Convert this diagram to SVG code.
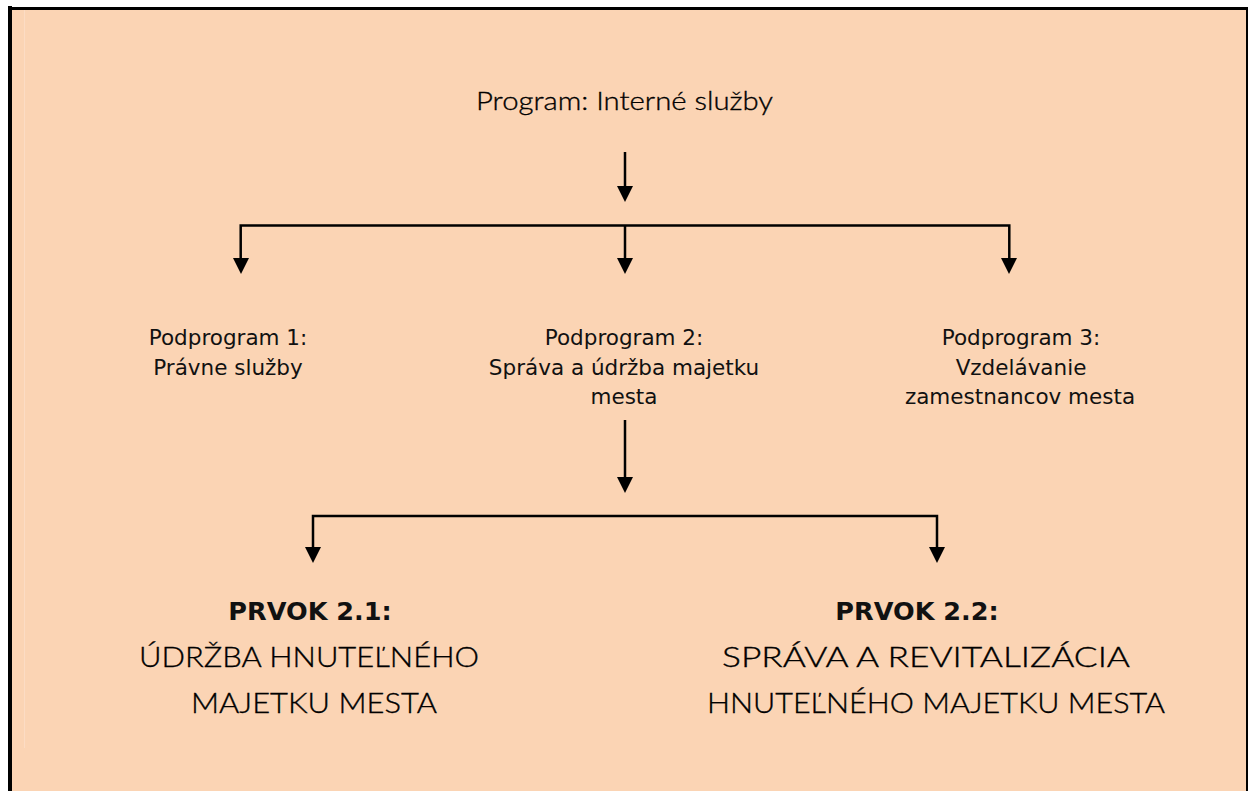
<svg xmlns="http://www.w3.org/2000/svg" width="1248" height="791" viewBox="0 0 1248 791">
<style>
.v{font-family:"DejaVu Sans","Verdana",sans-serif;font-size:21.5px;fill:#111;text-anchor:middle}
.g{font-family:"Lato","Open Sans",sans-serif;font-weight:300;fill:#000;stroke:#000;stroke-width:0.35;text-anchor:middle}
.b{font-family:"DejaVu Sans","Verdana",sans-serif;font-size:25.5px;font-weight:bold;fill:#111;text-anchor:middle}
.ln{fill:none;stroke:#000;stroke-width:2.5}
</style>
<rect x="10" y="8" width="1238" height="783" fill="#FBD4B4"/>
<line x1="24.5" y1="10" x2="24.5" y2="748" stroke="#FCDCC4" stroke-width="1"/>
<g id="frame" fill="#000">
<rect x="8" y="7" width="1240" height="3"/>
<rect x="8" y="6" width="4" height="785"/>
<rect x="1246" y="8" width="2" height="783"/>
</g>
<g id="connectors">
<path class="ln" d="M625 152 V186"/>
<polygon points="617,186 633,186 625,202"/>
<path class="ln" d="M240.7 258 V225.5 H1009.3 V258"/>
<path class="ln" d="M625 225.5 V258"/>
<polygon points="233,258 249,258 241,274"/>
<polygon points="617,258 633,258 625,274"/>
<polygon points="1001,258 1017,258 1009,274"/>
<path class="ln" d="M625 420 V477"/>
<polygon points="617,477 633,477 625,493"/>
<path class="ln" d="M313 548 V516 H937 V548"/>
<polygon points="305,547 321,547 313,563"/>
<polygon points="929,547 945,547 937,563"/>
</g>
<g id="program">
<text class="g" x="624.5" y="110" font-size="26" textLength="297" lengthAdjust="spacingAndGlyphs">Program: Interné služby</text>
</g>
<g id="podprogram1">
<text class="v" x="228" y="345">Podprogram 1:</text>
<text class="v" x="228" y="375">Právne služby</text>
</g>
<g id="podprogram2">
<text class="v" x="624" y="345">Podprogram 2:</text>
<text class="v" x="624" y="375">Správa a údržba majetku</text>
<text class="v" x="624" y="404">mesta</text>
</g>
<g id="podprogram3">
<text class="v" x="1021" y="345">Podprogram 3:</text>
<text class="v" x="1021" y="375">Vzdelávanie</text>
<text class="v" x="1020" y="404">zamestnancov mesta</text>
</g>
<g id="prvok21">
<text class="b" x="310" y="620">PRVOK 2.1:</text>
<text class="g" x="309" y="667" font-size="28" textLength="340" lengthAdjust="spacingAndGlyphs">ÚDRŽBA HNUTEĽNÉHO</text>
<text class="g" x="314" y="713" font-size="28" textLength="246" lengthAdjust="spacingAndGlyphs">MAJETKU MESTA</text>
</g>
<g id="prvok22">
<text class="b" x="917" y="620">PRVOK 2.2:</text>
<text class="g" x="926" y="667" font-size="28" textLength="408" lengthAdjust="spacingAndGlyphs">SPRÁVA A REVITALIZÁCIA</text>
<text class="g" x="936" y="713" font-size="28" textLength="458" lengthAdjust="spacingAndGlyphs">HNUTEĽNÉHO MAJETKU MESTA</text>
</g>
</svg>
